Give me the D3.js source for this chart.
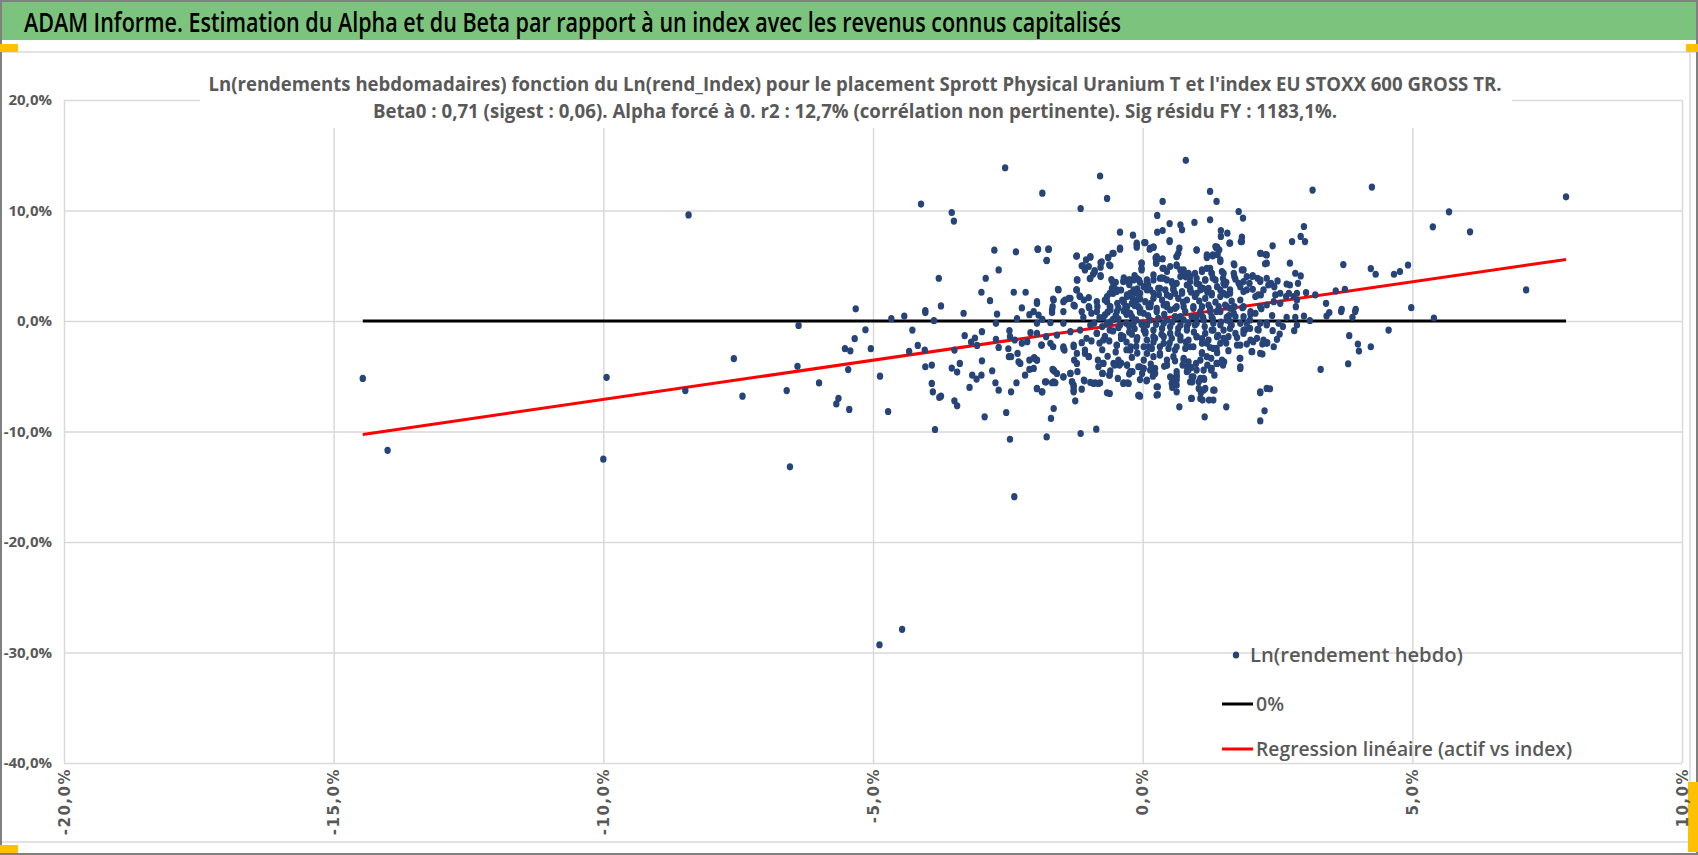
<!DOCTYPE html>
<html><head><meta charset="utf-8">
<script src="https://cdn.jsdelivr.net/npm/d3@7"></script>
<style>body{margin:0;background:#fff}svg{display:block}</style>
</head><body>
<svg id="c" width="1698" height="855"></svg>
<script>
const mainTitle = "ADAM Informe. Estimation du Alpha et du Beta par rapport à un index avec les revenus connus capitalisés";
const chartTitle = [
  "Ln(rendements hebdomadaires) fonction du Ln(rend_Index) pour le placement Sprott Physical Uranium T et l'index EU STOXX 600 GROSS TR.",
  "Beta0 : 0,71 (sigest : 0,06).  Alpha forcé à 0. r2 : 12,7% (corrélation non pertinente). Sig résidu FY : 1183,1%."
];
const legendLabels = ["Ln(rendement hebdo)", "0%", "Regression linéaire (actif vs index)"];
const xTicks = [-20, -15, -10, -5, 0, 5, 10];
const yTicks = [20, 10, 0, -10, -20, -30, -40];
const beta = 0.71;
const zeroLevel = 0;
// [Ln(rend_Index) %, Ln(rendement hebdo) %]
const scatterPoints = [
[-14.46,-5.2],[-14.0,-11.7],[-9.94,-5.1],[-10.0,-12.5],[-8.42,9.6],[-8.48,-6.3],[-7.58,-3.4],[-7.42,-6.8],[-6.54,-13.2],[-6.38,-0.4],[-6.4,-4.1],[-6.6,-6.3],[-6.0,-5.6],[-5.64,-7.0],[-5.68,-7.5],[-5.52,-2.5],[-5.42,-2.7],[-5.46,-4.4],[-5.44,-8.0],[-5.34,-1.6],[-5.32,1.1],[-5.14,-0.8],[-5.04,-2.5],[-4.88,-29.3],[-4.46,-27.9],[-2.38,-15.9],
[-2.55,13.87],[-4.11,10.58],[-1.86,11.57],[-0.79,13.12],[-0.66,11.09],[-1.15,10.18],[-3.54,9.82],[-3.50,9.04],[-0.42,8.04],[-0.18,7.77],[-0.11,6.89],[-0.42,6.50],[-0.56,6.13],[-0.64,5.74],[-0.76,5.35],[-0.78,4.87],[-0.60,4.99],[-2.75,6.41],[-2.35,6.26],[-1.94,6.50],[-1.74,6.50],[-1.78,5.50],[-1.23,5.86],[-1.05,5.53],[-0.97,5.77],[-1.13,4.99],[-1.07,4.71],[-0.89,4.44],[-0.78,4.11],[-0.98,3.84],[-1.21,3.72],[-0.58,3.75],[-0.54,3.17],[-0.35,3.60],[-0.26,3.72],[-0.17,3.72],[-0.07,3.72],[-3.78,3.87],[-2.67,4.62],[-2.91,3.87],[-2.99,2.60],[-2.83,1.84],[-2.39,2.60],[-2.17,2.60],[-1.57,2.87],[-1.23,2.81],[-1.17,2.27],[-1.00,2.12],[-1.37,2.05],[-1.47,1.75],[-1.66,1.99],[-3.74,1.36],[-4.03,0.94],[-2.24,1.18],[-1.96,1.60],[-1.67,1.30],[-1.26,1.36],[-0.99,1.18],[-0.84,1.30],[-0.66,2.21],[-0.57,2.96],[-0.48,2.66],[-0.38,1.90],[-0.29,2.21],[-0.23,2.51],[-0.14,2.66],[-0.20,1.60],[-0.11,1.90],[-0.47,1.60],[-0.60,1.30],[-0.66,1.75],[-0.32,1.30],[-0.08,1.30],
[-4.66,0.21],[-4.42,0.45],[-4.03,0.76],[-3.87,0.03],[-3.32,0.70],[-2.70,0.63],[-2.33,0.21],[-2.10,0.57],[-1.86,0.15],[-1.68,0.76],[-4.27,-0.82],[-4.17,-2.21],[-4.33,-2.75],[-4.04,-2.63],[-4.87,-4.99],[-4.03,-4.14],[-3.91,-3.99],[-4.72,-8.19],[-3.91,-5.65],[-3.89,-6.41],[-3.74,-6.80],[-3.77,-6.92],[-3.49,-7.22],[-3.44,-7.68],[-3.85,-9.82],[-3.54,-4.26],[-3.44,-4.62],[-3.39,-3.84],[-3.49,-2.63],[-3.30,-1.33],[-3.18,-1.90],[-3.11,-1.54],[-3.07,-2.21],[-2.98,-0.97],[-2.98,-3.60],[-3.16,-4.90],[-3.08,-5.26],[-2.99,-4.90],[-3.21,-6.01],[-2.93,-8.67],[-2.79,-4.50],[-2.73,-5.59],[-2.67,-6.26],[-2.72,-1.66],[-2.67,-2.39],[-2.72,-0.21],[-2.47,-0.88],[-2.46,-1.42],[-2.49,-2.51],[-2.48,-3.23],[-2.44,-3.23],[-2.32,-2.93],[-2.30,-3.69],[-2.27,-3.84],[-2.37,-1.72],[-2.34,-5.59],[-2.44,-6.41],[-2.53,-8.28],[-2.46,-10.70],[-2.24,-2.02],[-2.14,-1.87],[-2.08,-1.06],[-2.10,-3.54],[-2.01,-3.32],[-1.96,-3.54],[-2.10,-4.38],[-2.18,-4.90],[-1.96,-6.13],[-1.86,-6.41],[-1.79,-5.50],[-1.67,-4.38],[-1.64,-4.53],[-1.68,-5.59],[-1.62,-5.59],[-1.47,-5.05],[-1.65,-7.92],[-1.70,-8.82],[-1.78,-10.49],[-1.88,-2.18],[-1.79,-1.42],[-1.66,-2.33],[-1.47,-2.33],[-1.45,-2.63],[-1.28,-2.33],[-1.34,-4.74],[-1.31,-5.50],[-1.28,-5.80],[-1.28,-6.26],[-1.25,-7.22],[-1.13,-6.17],[-1.08,-5.41],[-1.21,-4.59],[-1.15,-10.18],[-0.86,-9.79],[-1.27,-3.54],[-1.22,-3.84],[-1.13,-1.96],[-1.07,-2.93],[-1.00,-3.23],[-0.97,-5.56],[-0.88,-5.59],[-0.79,-5.59],[-0.83,-3.54],[-0.82,-4.14],[-0.74,-4.74],[-0.73,-3.84],[-0.66,-6.50],[-0.62,-4.90],[-0.54,-3.84],[-0.45,-3.54],[-0.46,-5.20],[-0.35,-5.59],[-0.28,-5.59],[-0.29,-3.99],[-0.19,-4.59],[-0.08,-6.74],[-0.08,-4.14],[-0.22,-2.33],
[-0.95,0.7],[-0.8,0.3],[-0.65,0.8],[-0.5,0.5],[-0.35,0.9],[-0.2,0.4],[-0.05,0.8],[-0.9,-0.2],[-0.75,-0.5],[-0.6,-0.1],[-0.45,-0.6],[-0.3,-0.2],[-0.15,-0.7],[-0.02,-0.3],[-0.85,-1.1],[-0.7,-1.4],[-0.55,-0.9],[-0.4,-1.3],[-0.25,-1.0],[-0.1,-1.5],[-0.95,-1.8],[-0.8,-2.0],[-0.62,-1.8],[-0.48,-2.2],[-0.3,-1.9],[-0.12,-2.3],[-0.75,-2.6],[-0.5,-2.8],[-0.3,-2.6],[-0.1,-2.9],[-0.65,-3.2],[-0.2,-3.3],[-0.55,0.15],[-0.25,-0.45],[-0.7,0.55],
[-0.6,1.0],[-0.45,1.2],[-0.3,1.1],[-0.15,1.4],[-0.05,1.1],[-0.55,2.5],[-0.4,2.8],[-0.25,3.3],[-0.1,2.9],[-0.35,3.9],[-0.15,4.1],[-0.05,3.5],[-0.5,3.5],[-0.2,2.2],[-0.05,2.0],
[0.80,14.54],[1.25,11.73],[1.37,10.82],[0.37,10.82],[3.15,11.85],[4.25,12.12],[1.78,9.91],[1.86,9.31],[1.25,9.16],[0.96,8.92],[0.27,9.55],[0.50,8.82],[0.70,8.70],[0.73,8.25],[0.27,8.04],[0.37,8.19],[0.50,7.28],[0.03,7.10],[1.45,8.19],[1.45,7.65],[1.57,7.95],[1.61,7.04],[1.84,7.59],[1.84,7.19],[1.00,6.41],[1.38,6.68],[1.42,6.44],[1.39,6.01],[1.30,5.89],[1.44,5.38],[1.19,5.74],[0.68,6.59],[0.63,5.83],[0.20,6.68],[0.13,6.50],[0.24,5.71],[0.37,5.62],[2.41,6.80],[2.19,6.13],[2.28,6.01],[2.27,5.17],[2.77,7.19],[2.93,7.65],[2.99,8.55],[3.01,7.19],[2.73,5.23],[2.83,4.32],[2.93,4.08],[2.88,3.41],[2.73,3.26],[3.72,5.11],[4.23,4.74],[4.32,4.23],[4.66,4.23],[4.77,4.47],[3.58,2.72],[3.75,2.87],[3.20,2.36],[3.03,2.57],[2.80,2.21],[3.40,1.60],[3.69,1.06],[3.95,1.06],[1.70,5.08],[1.84,4.62],[1.70,4.02],[1.93,4.02],[2.04,4.11],[1.78,3.41],[2.13,3.87],[2.18,3.57],[2.30,3.87],[2.38,3.41],[2.44,3.11],[2.50,3.63],[2.67,3.35],[2.46,2.36],[2.55,2.51],[2.66,2.21],[2.71,2.51],[2.86,2.51],[1.98,3.41],[2.04,2.87],[2.09,2.21],[2.19,2.36],[1.87,2.66],[1.81,1.90],[1.70,1.30],[2.30,1.45],[2.43,1.75],[2.55,1.60],[2.84,1.30],[2.86,1.90],
[-0.02,5.23],[-0.02,4.77],[0.28,5.62],[0.25,5.23],[0.39,4.77],[0.51,4.93],[0.63,4.99],[0.70,4.62],[0.76,4.32],[0.88,4.02],[0.97,4.32],[1.10,4.62],[1.25,4.77],[1.28,4.32],[1.47,4.47],[1.49,3.87],[1.16,3.72],[1.00,3.41],[0.82,3.26],[0.63,3.41],[0.45,3.72],[0.32,3.87],[0.20,4.17],[0.08,3.72],[0.02,3.11],[0.14,2.81],[0.29,2.96],[0.42,2.81],[0.57,2.96],[0.73,2.66],[0.88,2.96],[1.07,2.81],[1.22,2.96],[1.38,3.11],[1.53,3.26],[1.62,2.81],[1.56,2.36],[1.44,2.21],[1.28,2.36],[1.16,2.05],[0.97,2.21],[0.82,1.90],[0.66,2.05],[0.51,2.21],[0.36,1.90],[0.20,2.05],[0.05,1.75],[0.11,1.30],[0.26,1.15],[0.45,1.30],[0.60,1.15],[0.76,1.30],[0.94,1.15],[1.10,1.30],[1.25,1.15],[1.41,1.30],[1.53,1.45],[1.62,1.15],
[4.56,-0.82],[3.83,-1.33],[3.99,-2.09],[4.01,-2.72],[4.23,-2.33],[3.81,-3.87],[3.30,-4.38],[3.89,0.33],[3.94,0.85],[3.68,0.85],[3.41,0.45],[3.46,0.76],[3.10,0.03],[2.99,0.45],[2.83,0.33],[2.67,0.33],[2.81,-0.88],[2.86,-0.36],[2.54,-1.18],[2.49,-1.66],[2.43,-2.33],[2.31,-1.96],[2.22,-2.09],[2.22,-2.99],[2.41,-0.88],[2.30,-0.36],[2.52,-0.21],[2.13,-0.76],[2.12,-1.57],[2.02,-2.78],[2.05,-1.87],[1.93,-2.09],[1.81,-2.18],[1.80,-3.38],[1.81,-4.29],[1.59,-2.69],[1.51,-3.69],[1.49,-3.99],[1.38,-2.87],[1.38,-3.84],[1.27,-3.38],[1.27,-4.44],[1.33,-4.90],[1.33,-6.26],[1.16,-6.10],[1.11,-7.16],[1.23,-7.16],[1.31,-7.16],[1.08,-6.50],[1.15,-8.67],[0.90,-7.01],[0.68,-7.77],[1.55,-7.77],[2.18,-6.50],[2.36,-6.13],[2.26,-8.13],[2.18,-9.04],[1.13,-4.44],[1.07,-5.20],[1.14,-5.29],[1.00,-4.44],[0.91,-5.05],[0.92,-5.50],[0.82,-4.59],[0.74,-3.99],[0.63,-4.59],[0.63,-5.05],[0.55,-5.20],[0.55,-6.01],[0.63,-5.80],[0.28,-5.95],[0.28,-6.65],[0.07,-5.41],[0.19,-4.99],[-0.05,-6.80],[0.45,-3.99],[0.23,-4.29],[0.14,-4.44],[0.02,-4.29],[0.02,-3.54],[1.07,-3.54],[1.19,-3.23],[1.10,-2.87],[0.99,-3.84],[0.85,-3.69],[0.76,-3.38],[0.57,-3.23],[0.45,-3.54],[0.32,-3.08],[0.20,-3.23],[0.08,-2.93],[1.31,-2.48],[1.44,-2.02],[1.59,-1.42],[1.72,-1.12],[1.87,-0.82],[1.99,-0.67],[1.81,-0.21],[1.65,-0.36],[1.50,-0.82],[1.38,-1.42],[1.22,-1.72],[1.10,-2.02],[0.94,-2.33],[0.79,-2.48],[0.63,-2.33],[0.48,-2.48],[0.32,-2.33],[0.17,-2.48],[0.02,-2.33],[0.08,-1.72],[0.23,-1.57],[0.39,-1.42],[0.54,-1.57],[0.70,-1.42],[0.85,-1.72],[1.00,-1.42],[1.16,-1.12],[1.31,-0.82],[1.44,-0.36],[1.56,0.09],[1.72,0.39],[1.87,0.39],[1.99,0.09],[2.09,0.70],[1.28,0.39],[1.13,0.09],[0.97,-0.36],[0.82,-0.51],[0.66,-0.67],[0.51,-0.51],[0.36,-0.67],[0.20,-0.82],[0.05,-0.97],[0.14,0.09],[0.29,0.24],[0.45,0.09],[0.60,0.39],[0.76,0.09],[0.91,0.39],[1.07,0.70],[1.25,0.85],[1.44,0.85],[-0.01,-0.21],[0.02,0.70],[-0.01,-4.74],
[-0.45,0.2],[-0.3,0.6],[-0.12,0.1],[0.1,0.5],[0.25,-0.3],[0.4,0.6],[0.55,-0.1],[0.7,0.4],[0.85,-0.2],[1.0,0.3],[1.15,-0.5],[1.3,0.2],[1.45,-0.1],[1.6,0.5],[-0.4,-1.6],[-0.2,-1.2],[0.05,-1.1],[0.2,-1.9],[0.35,-1.2],[0.5,-2.0],[0.65,-1.1],[0.8,-1.9],[0.95,-1.0],[1.1,-1.6],[1.25,-2.4],[1.4,-1.3],[1.55,-2.0],[-0.35,1.7],[-0.1,2.5],[0.15,1.6],[0.3,2.4],[0.45,1.5],[0.6,2.5],[0.75,1.7],[0.9,2.6],[1.05,1.8],[1.2,2.6],[1.35,1.7],[1.5,2.5],[1.65,1.8],[0.1,3.3],[0.35,3.9],[0.55,3.4],[0.8,4.0],[1.05,3.3],[1.3,3.9],[1.55,3.5],[0.15,-3.9],[0.4,-4.1],[0.6,-3.6],[0.9,-4.2],[1.2,-4.0],[-0.6,-4.5],[-0.4,-3.8],[-0.25,-4.8],[-0.05,-5.3],[1.75,-1.5],[1.9,-0.8],[2.0,0.6],[2.2,1.1],[1.85,1.2],[2.4,0.5],[2.6,-0.5],[2.3,-0.2],
[-1.95,6.50],[-1.75,6.50],[-1.78,5.47],[-1.22,5.89],[-0.97,5.83],[-1.00,4.93],[-1.11,4.99],[-1.07,4.62],[-0.89,4.56],[-0.92,4.23],[-0.78,5.29],[-0.62,5.08],[-0.64,5.77],[-0.54,6.13],[-0.42,6.59],[-0.11,7.04],[0.05,7.10],[-0.11,6.68],[0.14,6.59],[0.20,6.68],[0.50,7.19],[-0.02,5.23],[-0.02,4.62],[0.26,5.83],[0.25,5.23],[0.37,4.77],[0.45,4.47],[0.63,5.83],[0.66,6.13],[0.63,5.08],[0.76,4.62],[0.85,4.32],[1.00,6.44],[1.19,5.98],[1.30,5.98],[1.37,6.59],[1.44,5.53],[1.35,6.74],[1.62,7.04],[1.82,7.19],[1.69,5.17],[1.87,4.62],[2.18,6.13],[2.30,5.98],[2.30,5.23],[1.50,4.32],[1.69,4.32],[1.19,4.77],[1.10,4.47],[1.28,4.32],
[-1.22,3.72],[-0.97,3.87],[-0.78,4.02],[-0.56,3.57],[-0.36,3.57],[-0.23,3.72],[-0.11,3.87],[0.08,3.57],[0.20,3.72],[0.39,3.87],[0.54,3.57],[0.70,4.02],[0.88,3.57],[1.00,3.87],[1.16,3.72],[1.35,3.72],[1.50,3.41],[1.72,3.78],[1.87,3.57],[2.03,4.02],[2.18,3.72],[2.33,3.26],[-1.56,2.81],[-1.22,2.81],[-1.44,1.90],[-1.34,2.05],[-1.16,2.21],[-1.09,1.90],[-1.28,1.45],[-1.00,1.30],[-0.85,1.75],[-0.70,1.90],[-0.61,2.51],[-0.48,2.81],[-0.29,2.36],[-0.17,2.81],[-0.05,2.51],[0.08,2.81],[0.20,2.51],[0.32,2.96],[0.45,2.36],[0.57,2.81],[0.73,2.51],[0.88,2.81],[1.00,2.51],[1.12,2.96],[1.28,2.51],[1.44,2.81],[1.62,2.51],[1.81,3.11],[1.93,2.81],[2.14,2.36],[2.24,2.81],
[-1.96,1.75],[-2.02,0.85],[-1.93,0.54],[-1.65,1.90],[-1.68,1.00],[-1.47,0.85],[-1.13,0.85],[-0.85,0.85],[-0.61,1.30],[-0.48,0.85],[-0.29,1.30],[-0.17,1.75],[-0.23,0.70],[-0.05,1.00],[0.14,1.30],[0.26,0.85],[0.39,1.45],[0.51,1.00],[0.63,1.30],[0.79,0.85],[0.94,1.30],[1.07,0.85],[1.22,1.45],[1.37,0.85],[1.56,1.30],[1.69,0.70],[1.87,1.30],[2.00,0.85],[2.18,1.30],[-1.10,0.33],[-0.73,0.33],[0.63,0.33],[1.12,0.33],[1.56,0.33],
[-1.96,-0.21],[-1.71,-0.15],[-1.47,-0.21],[-1.96,-1.12],[-1.87,-2.18],[-1.71,-2.02],[-1.59,-1.27],[-1.47,-2.48],[-1.28,-2.18],[-1.22,-2.93],[-1.07,-2.63],[-1.00,-3.23],[-2.02,-3.38],[-1.96,-3.54],[-2.02,-4.29],[-1.65,-4.44],[-1.59,-4.74],[-1.81,-5.50],[-1.65,-5.50],[-1.96,-6.10],[-1.87,-6.41],[-1.47,-5.05],[-1.34,-4.74],[-1.31,-5.50],[-1.28,-5.95],[-1.28,-6.41],[-1.09,-5.35],[-0.91,-5.65],[-0.82,-5.65],[-0.75,-4.74],[-0.73,-3.84],[-0.61,-4.89],[-0.61,-6.56],[-0.52,-3.99],[-0.43,-3.99],[-0.36,-5.65],[-0.26,-5.65],[-0.29,-3.99],[-0.23,-4.59],[-0.07,-6.71],[-0.05,-4.14],[0.08,-5.35],[0.17,-4.44],[0.23,-4.74],[0.26,-5.95],[0.26,-6.71],[0.45,-3.99],[0.51,-5.05],[0.54,-5.65],[0.63,-4.89],[0.63,-5.35],[0.76,-3.54],[0.82,-4.14],[0.85,-4.44],[0.88,-5.50],[0.94,-5.05],[1.04,-5.50],[1.04,-6.10],[1.13,-5.20],[1.13,-6.26],[1.28,-4.29],[1.37,-3.84],[1.47,-3.54],[1.81,-3.38],[1.81,-4.14],[2.03,-2.78],[2.18,-2.93],[2.18,-6.41],[2.30,-6.10],[2.30,-2.02],[0.63,-6.41],[0.91,-7.01],[1.07,-7.01],[1.31,-6.26],
[-0.85,-1.12],[-0.73,-1.72],[-0.61,-0.82],[-0.48,-2.18],[-0.36,-1.42],[-0.23,-2.63],[-0.11,-1.72],[0.02,-0.82],[0.11,-2.33],[0.20,-1.42],[0.32,-2.93],[0.39,-2.02],[0.51,-1.12],[0.60,-2.63],[0.70,-1.72],[0.82,-0.82],[0.88,-2.33],[1.00,-1.42],[1.10,-2.93],[1.19,-2.02],[1.28,-0.82],[1.37,-2.48],[1.50,-1.57],[1.62,-0.67],[1.75,-2.18],[1.87,-1.12],[2.00,-1.72],[2.15,-0.82],[2.24,-1.72],[-1.16,-0.82],[-1.04,-1.57],[-1.34,-0.97],[-0.97,-0.36],[-0.66,-0.21],[-0.42,-0.36],[-0.17,-0.21],[0.08,-0.36],[0.39,-0.21],[0.70,-0.36],[1.00,-0.21],[1.31,-0.21],[1.62,-0.06],[1.93,-0.21],[2.18,-0.21],
[4.98,1.21],[5.40,0.27],[5.68,9.88],[6.07,8.07],[5.38,8.52],[7.11,2.81],[7.85,11.24],[4.92,5.07]
];

const svg = d3.select("#c");
const W = 1698, H = 855;
const narrow = "'Liberation Sans Narrow','Open Sans','Noto Sans',sans-serif";
const grey = "#595959";

// frame & header
svg.append("rect").attr("x",0).attr("y",0).attr("width",W).attr("height",H).attr("fill","#fff");
svg.append("rect").attr("x",0).attr("y",0).attr("width",W).attr("height",40).attr("fill","#7CC47D");
svg.append("text").attr("x",24).attr("y",32).attr("font-family",narrow).attr("font-size",27).attr("font-weight",600)
  .attr("fill","#000").attr("textLength",1097).attr("lengthAdjust","spacingAndGlyphs").text(mainTitle);
svg.append("line").attr("x1",0).attr("x2",W).attr("y1",52).attr("y2",52).attr("stroke","#d9d9d9").attr("stroke-width",1.5);
svg.append("line").attr("x1",0).attr("x2",W).attr("y1",842).attr("y2",842).attr("stroke","#d9d9d9").attr("stroke-width",1.5);
svg.append("line").attr("x1",1690).attr("x2",1690).attr("y1",52).attr("y2",842).attr("stroke","#d9d9d9").attr("stroke-width",1.5);
svg.append("rect").attr("x",1).attr("y",1).attr("width",W-2).attr("height",H-2).attr("fill","none").attr("stroke","#808080").attr("stroke-width",2);
const handles = [[0,44,18,8],[0,845,18,8],[1686,44,12,8],[1688,782,10,70]];
svg.selectAll("rect.h").data(handles).join("rect").attr("class","h")
  .attr("x",d=>d[0]).attr("y",d=>d[1]).attr("width",d=>d[2]).attr("height",d=>d[3]).attr("fill","#FFC000");

// scales
const x = d3.scaleLinear().domain([-20,10]).range([64,1682]);
const y = d3.scaleLinear().domain([-40,20]).range([763,100]);
const fmt = d => d.toFixed(1).replace(".",",") + "%";

// grid
const gx = svg.append("g").attr("transform",`translate(0,${y(-40)})`)
  .call(d3.axisBottom(x).tickValues(xTicks).tickSize(-(y(-40)-y(20))).tickFormat(""));
const gy = svg.append("g").attr("transform",`translate(${x(-20)},0)`)
  .call(d3.axisLeft(y).tickValues(yTicks).tickSize(-(x(10)-x(-20))).tickFormat(""));
[gx,gy].forEach(g=>{g.select(".domain").remove(); g.selectAll("line").attr("stroke","#d9d9d9").attr("stroke-width",1.5);});

// tick labels
const ly = svg.append("g").attr("transform",`translate(${x(-20)-12},0)`)
  .call(d3.axisLeft(y).tickValues(yTicks).tickSize(0).tickFormat(fmt));
ly.select(".domain").remove();
ly.selectAll("text").attr("font-family",narrow).attr("font-weight","bold").attr("font-size",15).attr("fill",grey).attr("x",0);

const lx = svg.append("g").attr("transform",`translate(0,${y(-40)})`)
  .call(d3.axisBottom(x).tickValues(xTicks).tickSize(0).tickFormat(fmt));
lx.select(".domain").remove();
lx.selectAll("text").attr("font-family","'DejaVu Sans',sans-serif").attr("font-weight","bold").attr("font-size",15)
  .attr("fill",grey).attr("transform","rotate(-90)").attr("text-anchor","end").attr("x",-5).attr("y",0).attr("dy","0.35em")
  .attr("letter-spacing",1.5);

// chart title with background box
svg.append("rect").attr("x",200).attr("y",72).attr("width",1312).attr("height",56).attr("fill","#fff");
const tw = [1293, 964];
svg.selectAll("text.ct").data(chartTitle).join("text").attr("class","ct")
  .attr("x",855).attr("y",(d,i)=>91+i*27).attr("text-anchor","middle")
  .attr("font-family",narrow).attr("font-size",20).attr("font-weight","bold").attr("fill",grey)
  .attr("textLength",(d,i)=>tw[i]).attr("lengthAdjust","spacingAndGlyphs").text(d=>d);

// lines
const [xmin,xmax] = d3.extent(scatterPoints, d=>d[0]);
svg.append("line").attr("x1",x(xmin)).attr("x2",x(xmax)).attr("y1",y(zeroLevel)).attr("y2",y(zeroLevel))
  .attr("stroke","#000").attr("stroke-width",3);
svg.append("line").attr("x1",x(xmin)).attr("x2",x(xmax)).attr("y1",y(beta*xmin)).attr("y2",y(beta*xmax))
  .attr("stroke","#FF0000").attr("stroke-width",3);

// points
svg.append("g").selectAll("ellipse").data(scatterPoints).join("ellipse")
  .attr("cx",d=>x(d[0])).attr("cy",d=>y(d[1])).attr("rx",3.2).attr("ry",3.6).attr("fill","#264478");

// legend
const lg = svg.append("g").attr("font-family",narrow).attr("font-size",20).attr("font-weight",600).attr("fill",grey);
const rows = [655, 704, 749];
const lw = [213, 28, 316];
lg.append("ellipse").attr("cx",1236).attr("cy",rows[0]).attr("rx",3.2).attr("ry",3.6).attr("fill","#264478");
lg.append("line").attr("x1",1222).attr("x2",1253).attr("y1",rows[1]).attr("y2",rows[1]).attr("stroke","#000").attr("stroke-width",3);
lg.append("line").attr("x1",1222).attr("x2",1253).attr("y1",rows[2]).attr("y2",rows[2]).attr("stroke","#FF0000").attr("stroke-width",3);
lg.selectAll("text").data(legendLabels).join("text")
  .attr("x",(d,i)=>i===0?1250:1256).attr("y",(d,i)=>rows[i]+7)
  .attr("textLength",(d,i)=>lw[i]).attr("lengthAdjust","spacingAndGlyphs").text(d=>d);
</script>
</body></html>
